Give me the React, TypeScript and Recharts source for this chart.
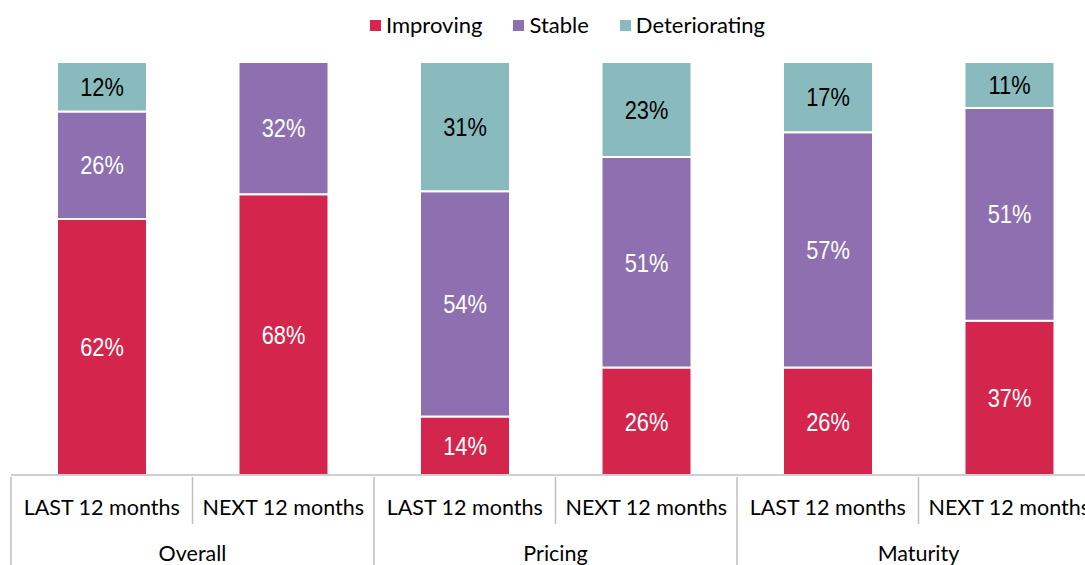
import React from "react";
import { BarChart, Bar, XAxis, YAxis, Legend, LabelList } from "recharts";

const periods = ["LAST 12 months", "NEXT 12 months", "LAST 12 months", "NEXT 12 months", "LAST 12 months", "NEXT 12 months"];
const groups = ["Overall", "Pricing", "Maturity"];
const improving = [62, 68, 14, 26, 26, 37];
const stable = [26, 32, 54, 51, 57, 51];
const deteriorating = [12, 0, 31, 23, 17, 11];

const series = [
  { key: "improving", name: "Improving", color: "#D4264C", text: "#ffffff" },
  { key: "stable", name: "Stable", color: "#8E6FAF", text: "#ffffff" },
  { key: "deteriorating", name: "Deteriorating", color: "#89BBBE", text: "#000000" }
];

const data = periods.map((p, i) => ({
  period: p,
  group: groups[Math.floor(i / 2)],
  improving: improving[i],
  stable: stable[i],
  deteriorating: deteriorating[i]
}));

const AXIS_FONT = "Lato, 'Open Sans', sans-serif";
const LABEL_FONT = "'Liberation Sans', Arial, sans-serif";
const GRID = "#bfbfbf";
const BAND = 181.5;

const CategoryTick = (props: any) => {
  const { x, y, payload, index } = props;
  const top = y - 6;
  const left = x - BAND / 2;
  const groupStart = index % 2 === 0;
  return (
    <g>
      <line x1={left} x2={left} y1={top} y2={groupStart ? top + 95 : top + 47} stroke={GRID} strokeWidth={1.5} />
      <text x={x} y={top + 38} textAnchor="middle" fontSize={21.5} fontFamily={AXIS_FONT} fill="#000">
        {payload.value}
      </text>
      {groupStart && (
        <text x={x + BAND / 2} y={top + 84} textAnchor="middle" fontSize={21.5} fontFamily={AXIS_FONT} fill="#000">
          {data[index].group}
        </text>
      )}
    </g>
  );
};

// narrow-looking labels: Liberation Sans squeezed horizontally
const makeLabel = (color: string) => (props: any) => {
  const { x, y, width, height, value } = props;
  if (!value) return null;
  const cx = x + width / 2;
  const cy = y + height / 2;
  return (
    <text
      transform={`translate(${cx},${cy}) scale(0.84,1)`}
      textAnchor="middle"
      dominantBaseline="central"
      fontSize={26}
      fontFamily={LABEL_FONT}
      fill={color}
    >
      {`${value}%`}
    </text>
  );
};

const LegendContent = () => (
  <div style={{ display: "flex", justifyContent: "center", fontFamily: AXIS_FONT, fontSize: 22, color: "#000", lineHeight: "26px" }}>
    {series.map(s => (
      <div key={s.key} style={{ display: "flex", alignItems: "center", marginRight: 31 }}>
        <span style={{ width: 11, height: 11, background: s.color, display: "inline-block", marginRight: 5 }} />
        <span>{s.name}</span>
      </div>
    ))}
  </div>
);

export default function App() {
  return (
    <div style={{ position: "fixed", left: 0, top: 0, width: 1085, height: 565, overflow: "hidden", background: "#fff" }}>
      <BarChart
        width={1110}
        height={565}
        data={data}
        stackOffset="expand"
        barSize={90}
        margin={{ top: 36, right: 10, bottom: 0, left: 11 }}
      >
        <XAxis
          dataKey="period"
          interval={0}
          tickLine={false}
          axisLine={{ stroke: GRID, strokeWidth: 1.5 }}
          height={90}
          tick={<CategoryTick />}
        />
        <YAxis hide domain={[0, 1]} />
        <Legend
          verticalAlign="top"
          content={<LegendContent />}
          wrapperStyle={{ top: 12, left: 28, width: 1110 }}
        />
        {series.map(s => (
          <Bar
            key={s.key}
            dataKey={s.key}
            name={s.name}
            stackId="a"
            fill={s.color}
            stroke="#ffffff"
            strokeWidth={2}
            isAnimationActive={false}
          >
            <LabelList dataKey={s.key} content={makeLabel(s.text)} />
          </Bar>
        ))}
      </BarChart>
    </div>
  );
}
